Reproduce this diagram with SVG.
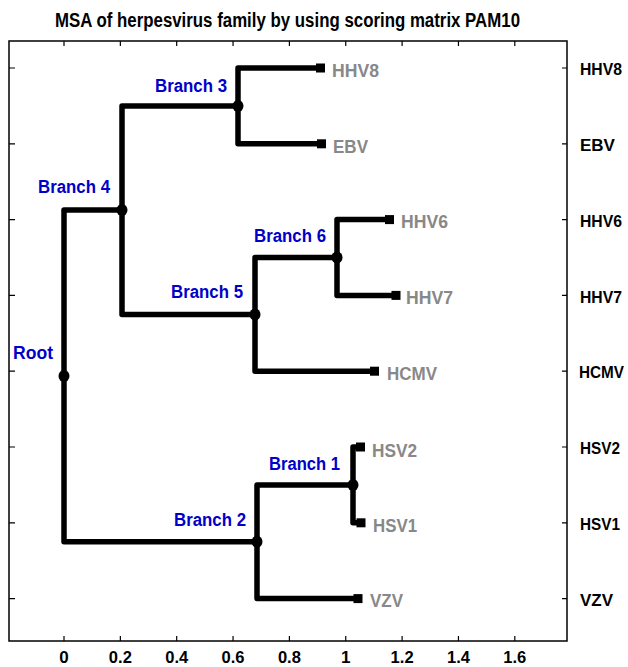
<svg xmlns="http://www.w3.org/2000/svg" width="628" height="667" viewBox="0 0 628 667">
<style>
text{font-family:"Liberation Sans",Arial,sans-serif;font-weight:bold}
.title{font-size:19.5px;fill:#000}
.tick{stroke:#000;stroke-width:1.2;fill:none}
.box{stroke:#000;stroke-width:1.5;fill:none}
.ax{font-size:17px;fill:#000;text-anchor:middle}
.rl{font-size:17px;fill:#000}
.br{font-size:18px;fill:#0000C8}
.lf{font-size:18px;fill:#888888}
.edge{stroke:#000;stroke-width:5.5;fill:none;stroke-linejoin:round;stroke-linecap:butt}
.dot{fill:#000}
.sq{fill:#000}
</style>
<rect width="628" height="667" fill="#fff"/>
<text class="title" x="55" y="27" textLength="465" lengthAdjust="spacingAndGlyphs">MSA of herpesvirus family by using scoring matrix PAM10</text>
<g id="axes">
<rect class="box" x="9" y="41" width="558" height="600"/>
<path class="tick" d="M64,41v5M120.35,41v5M176.7,41v5M233.05,41v5M289.4,41v5M345.75,41v5M402.1,41v5M458.45,41v5M514.8,41v5M64,641v-5M120.35,641v-5M176.7,641v-5M233.05,641v-5M289.4,641v-5M345.75,641v-5M402.1,641v-5M458.45,641v-5M514.8,641v-5M9,68h6M9,143.8h6M9,219.6h6M9,295.4h6M9,371.2h6M9,447h6M9,522.8h6M9,598.6h6M567,68h-5M567,143.8h-5M567,219.6h-5M567,295.4h-5M567,371.2h-5M567,447h-5M567,522.8h-5M567,598.6h-5"/>
<text class="ax" x="64" y="663">0</text>
<text class="ax" x="120.35" y="663" textLength="23" lengthAdjust="spacingAndGlyphs">0.2</text>
<text class="ax" x="176.7" y="663" textLength="23" lengthAdjust="spacingAndGlyphs">0.4</text>
<text class="ax" x="233.05" y="663" textLength="23" lengthAdjust="spacingAndGlyphs">0.6</text>
<text class="ax" x="289.4" y="663" textLength="23" lengthAdjust="spacingAndGlyphs">0.8</text>
<text class="ax" x="345.75" y="663">1</text>
<text class="ax" x="402.1" y="663" textLength="23" lengthAdjust="spacingAndGlyphs">1.2</text>
<text class="ax" x="458.45" y="663" textLength="23" lengthAdjust="spacingAndGlyphs">1.4</text>
<text class="ax" x="514.8" y="663" textLength="23" lengthAdjust="spacingAndGlyphs">1.6</text>
<text class="rl" x="580" y="75" textLength="42" lengthAdjust="spacingAndGlyphs">HHV8</text>
<text class="rl" x="580" y="151">EBV</text>
<text class="rl" x="580" y="226.5" textLength="42" lengthAdjust="spacingAndGlyphs">HHV6</text>
<text class="rl" x="580" y="302.5" textLength="42" lengthAdjust="spacingAndGlyphs">HHV7</text>
<text class="rl" x="579" y="378" textLength="45" lengthAdjust="spacingAndGlyphs">HCMV</text>
<text class="rl" x="580" y="454" textLength="40" lengthAdjust="spacingAndGlyphs">HSV2</text>
<text class="rl" x="580" y="530" textLength="40" lengthAdjust="spacingAndGlyphs">HSV1</text>
<text class="rl" x="580" y="605.5">VZV</text>
</g>
<g id="connectors">
<path class="edge" d="M64,376V210.1H122"/>
<path class="edge" d="M64,376V541.8H257"/>
<path class="edge" d="M122,210.1V105.9H238"/>
<path class="edge" d="M122,210.1V314.4H255"/>
<path class="edge" d="M238,105.9V68H320.5"/>
<path class="edge" d="M238,105.9V143.8H321.5"/>
<path class="edge" d="M255,314.4V257.5H337"/>
<path class="edge" d="M255,314.4V371.2H374.5"/>
<path class="edge" d="M337,257.5V219.6H389.5"/>
<path class="edge" d="M337,257.5V295.4H396"/>
<path class="edge" d="M257,541.8V484.9H353"/>
<path class="edge" d="M257,541.8V598.6H358"/>
<path class="edge" d="M353,484.9V447H360.5"/>
<path class="edge" d="M353,484.9V522.8H361"/>
</g>
<g id="root"><ellipse class="dot" cx="64" cy="376" rx="5.5" ry="6"/><text class="br" x="13" y="359" textLength="40" lengthAdjust="spacingAndGlyphs">Root</text></g>
<g id="branch4"><ellipse class="dot" cx="122" cy="210.1" rx="5.5" ry="6"/><text class="br" x="38" y="193" textLength="72" lengthAdjust="spacingAndGlyphs">Branch 4</text></g>
<g id="branch3"><ellipse class="dot" cx="238" cy="105.9" rx="5.5" ry="6"/><text class="br" x="155" y="92" textLength="72" lengthAdjust="spacingAndGlyphs">Branch 3</text></g>
<g id="branch5"><ellipse class="dot" cx="255" cy="314.4" rx="5.5" ry="6"/><text class="br" x="171" y="298" textLength="72" lengthAdjust="spacingAndGlyphs">Branch 5</text></g>
<g id="branch6"><ellipse class="dot" cx="337" cy="257.5" rx="5.5" ry="6"/><text class="br" x="254" y="242" textLength="72" lengthAdjust="spacingAndGlyphs">Branch 6</text></g>
<g id="branch2"><ellipse class="dot" cx="257" cy="541.8" rx="5.5" ry="6"/><text class="br" x="174" y="526" textLength="72" lengthAdjust="spacingAndGlyphs">Branch 2</text></g>
<g id="branch1"><ellipse class="dot" cx="353" cy="484.9" rx="5.5" ry="6"/><text class="br" x="269" y="470" textLength="71" lengthAdjust="spacingAndGlyphs">Branch 1</text></g>
<g id="leaf-HHV8"><rect class="sq" x="316" y="63.5" width="9" height="9"/><text class="lf" x="332" y="76.5" textLength="47" lengthAdjust="spacingAndGlyphs">HHV8</text></g>
<g id="leaf-EBV"><rect class="sq" x="317" y="139.3" width="9" height="9"/><text class="lf" x="333" y="153" textLength="35" lengthAdjust="spacingAndGlyphs">EBV</text></g>
<g id="leaf-HHV6"><rect class="sq" x="385" y="215.1" width="9" height="9"/><text class="lf" x="401" y="227.5" textLength="47" lengthAdjust="spacingAndGlyphs">HHV6</text></g>
<g id="leaf-HHV7"><rect class="sq" x="391.5" y="290.9" width="9" height="9"/><text class="lf" x="406" y="304" textLength="47" lengthAdjust="spacingAndGlyphs">HHV7</text></g>
<g id="leaf-HCMV"><rect class="sq" x="370" y="366.7" width="9" height="9"/><text class="lf" x="387" y="379.5" textLength="50" lengthAdjust="spacingAndGlyphs">HCMV</text></g>
<g id="leaf-HSV2"><rect class="sq" x="356" y="442.5" width="9" height="9"/><text class="lf" x="372" y="456.5" textLength="45" lengthAdjust="spacingAndGlyphs">HSV2</text></g>
<g id="leaf-HSV1"><rect class="sq" x="356.5" y="518.3" width="9" height="9"/><text class="lf" x="373" y="531.5" textLength="44" lengthAdjust="spacingAndGlyphs">HSV1</text></g>
<g id="leaf-VZV"><rect class="sq" x="353.5" y="594.1" width="9" height="9"/><text class="lf" x="370" y="607" textLength="33" lengthAdjust="spacingAndGlyphs">VZV</text></g>
</svg>
